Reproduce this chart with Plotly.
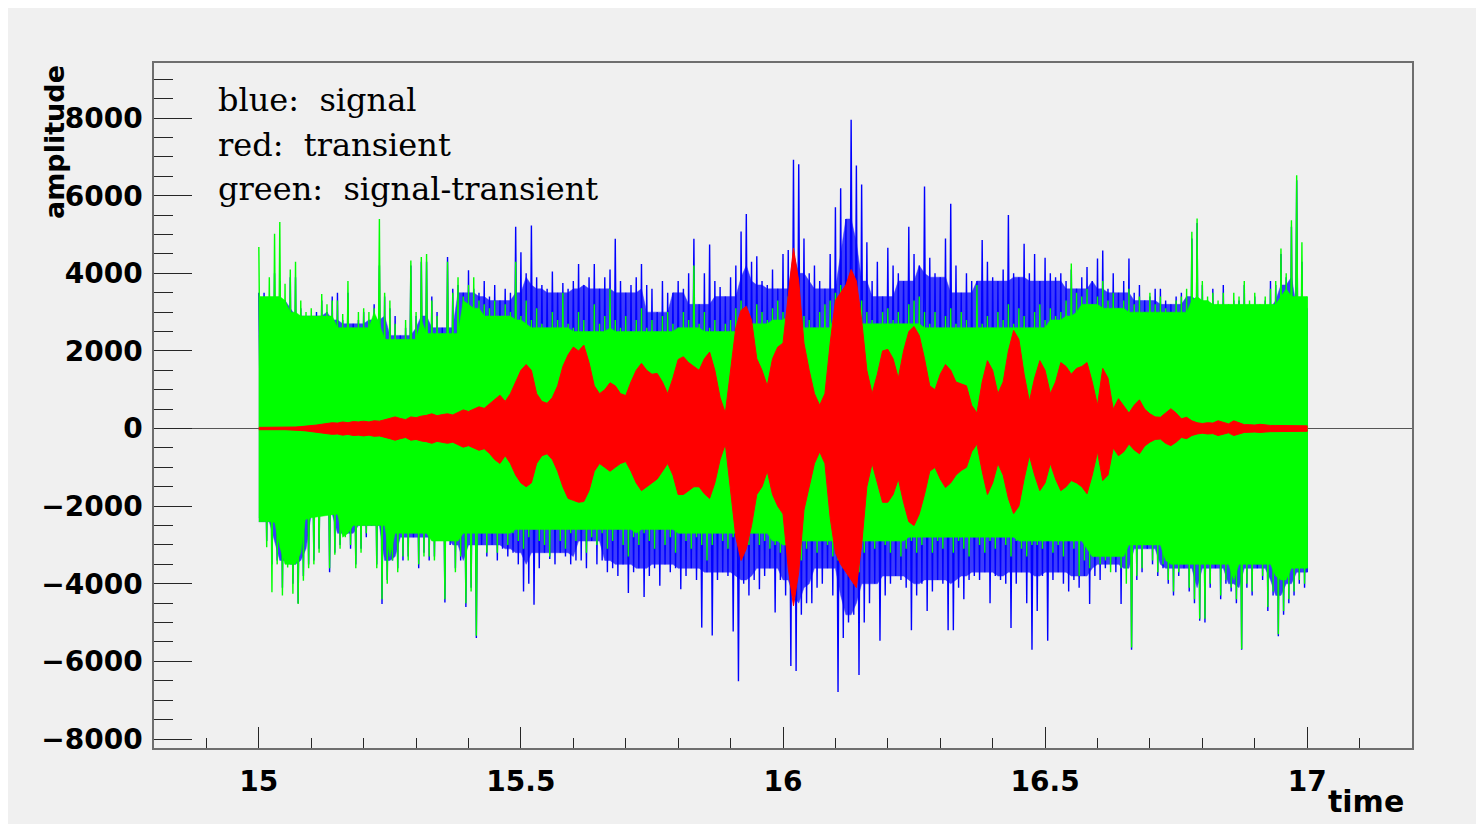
import numpy as np
import plotly.graph_objects as go

# ---------------- data ----------------
# fine time grid: 15.00 .. 17.00 step 0.01 (201 samples); coarse grid step 0.05 (41 samples)
t_fine = np.round(np.linspace(15.0, 17.0, 201), 3)
t_coarse = np.round(np.linspace(15.0, 17.0, 41), 3)

# green (signal-transient): oscillation tops / bottoms per 0.01 s
green_hi = [
    4680, 3400, 3900, 5020, 5320, 3730, 4100, 4300, 3300, 3000,
    3100, 2900, 3470, 3200, 3300, 3300, 2950, 3800, 2600, 3000,
    3100, 3000, 3100, 5400, 3500, 3300, 2700, 2300, 2800, 4330,
    3000, 4420, 4500, 3300, 2900, 2450, 4300, 3500, 3900, 3400,
    3700, 3900, 3300, 3200, 3100, 3300, 2900, 3200, 3000, 4300,
    2900, 3300, 2800, 3100, 2700, 2600, 3000, 2800, 3500, 2700,
    2600, 3000, 2800, 2500, 3200, 2700, 2900, 3600, 2800, 2600,
    2900, 2500, 2800, 3100, 2600, 2800, 2500, 2900, 3000, 2700,
    2600, 3000, 2800, 4200, 2700, 3000, 2600, 2800, 2500, 2700,
    2800, 3100, 3300, 2900, 2700, 3200, 3000, 2800, 3100, 3300,
    3000, 3400, 3800, 3500, 2900, 2800, 2600, 3000, 3200, 3300,
    3500, 3700, 3600, 3900, 3500, 3300, 3000, 2800, 2700, 3000,
    3100, 2800, 3000, 2700, 3200, 3300, 3400, 3000, 2700, 3000,
    2600, 2900, 3100, 2700, 3000, 2800, 2600, 3700, 2700, 2900,
    2600, 3000, 2800, 3200, 2700, 3100, 2900, 2600, 3000, 3200,
    2800, 3100, 2900, 3000, 3300, 4250, 3500, 3400, 3600, 3200,
    3400, 3800, 3300, 3500, 3100, 3300, 3600, 3200, 3400, 3000,
    3500, 3200, 3400, 3100, 3000, 3300, 3400, 3600, 5070, 5410,
    3800, 3400, 3500, 3300, 3500, 3200, 3500, 3400, 3800, 3300,
    3500, 3200, 3400, 3600, 3800, 4640, 4000, 5370, 6530, 4800,
    3400,
]
green_lo = [
    -2400, -3060, -4220, -3500, -4300, -3580, -4260, -4520, -3920, -3600,
    -3500, -3200, -2200, -3600, -3250, -3100, -2800, -3000, -3600, -3200,
    -2700, -2500, -3600, -4400, -4000, -3400, -3700, -3300, -3400, -2700,
    -3500, -3300, -3300, -3400, -2900, -4400, -2900, -3700, -3300, -4500,
    -4200, -5340, -2700, -3200, -2700, -3200, -2700, -3000, -2700, -2900,
    -3100, -2800, -2600, -2900, -3000, -3300, -2600, -2900, -3100, -2700,
    -2900, -2600, -3200, -2800, -3000, -2700, -3100, -2900, -2600, -3000,
    -3300, -2800, -3000, -2700, -2900, -3100, -2600, -3000, -2800, -3200,
    -2700, -2900, -3100, -2800, -3000, -3400, -3000, -2700, -2900, -3100,
    -2800, -3000, -3200, -3000, -2700, -3000, -2900, -3100, -3000, -3200,
    -3000, -3300, -3900, -3400, -3100, -2900, -3200, -2900, -3000, -3300,
    -3400, -3600, -3500, -3800, -3700, -3200, -2900, -3100, -2900, -3000,
    -3200, -2900, -3300, -3100, -2900, -3200, -3000, -2800, -3200, -2900,
    -3100, -2800, -3200, -2900, -3100, -3300, -2800, -3000, -3200, -2900,
    -3100, -2800, -3000, -3300, -2900, -3100, -3300, -3000, -3000, -3100,
    -2900, -3200, -3000, -3300, -2900, -3100, -3800, -3400, -3600, -3300,
    -3500, -3400, -3700, -3300, -3600, -4000, -5640, -3800, -3600, -3000,
    -3400, -3700, -3500, -3900, -4200, -3700, -3500, -4100, -4400, -4900,
    -4900, -4000, -3500, -4300, -3900, -4100, -4400, -5680, -4000, -4200,
    -3500, -3800, -4600, -4200, -5300, -4700, -4400, -4200, -3900, -4000,
    -3600,
]

# blue (signal): oscillation tops / bottoms per 0.01 s
blue_hi = [
    3500, 3500, 3300, 4000, 3800, 3300, 3900, 3900, 3100, 2900,
    2900, 3000, 3300, 3000, 3400, 3500, 2800, 3500, 2700, 2800,
    3000, 2800, 3200, 4200, 3400, 3100, 2900, 2400, 2600, 4200,
    2900, 4300, 4300, 3400, 3000, 2600, 4420, 3600, 3700, 3500,
    4080, 3600, 3500, 3800, 3400, 3700, 3300, 3600, 3500, 5200,
    4540, 4000, 5230, 3900, 3700, 3600, 4050, 3500, 3750, 3600,
    3800, 4240, 3700, 3900, 4240, 3600, 3900, 4100, 4890, 3800,
    3500, 3700, 3900, 4240, 3700, 3600, 3000, 3800, 3500, 3500,
    3800, 3600, 4000, 4890, 3200, 4000, 4740, 3800, 3650, 3400,
    3900, 4200, 5080, 5530, 4300, 4440, 3800, 3700, 4100, 3600,
    4500, 4600, 6930, 6810, 4900, 4000, 4200, 3800, 3600, 4500,
    5700, 6190, 5400, 7960, 6780, 6290, 4800, 3800, 4300, 3400,
    4660, 4200, 4000, 3800, 5200, 4500, 4200, 6240, 4400, 4000,
    3900, 4900, 5790, 4200, 3500, 4000, 3800, 3800, 4860, 4300,
    3900, 3800, 4100, 5500, 4000, 3900, 4760, 4000, 4500, 3800,
    4400, 4000, 3900, 4000, 3800, 4100, 3600, 3900, 4160, 3800,
    4380, 4590, 3600, 4000, 3500, 3800, 4380, 3500, 3700, 3300,
    3400, 3600, 3600, 3300, 3200, 3400, 3500, 3400, 4900, 5300,
    3700, 3300, 3600, 3200, 3700, 3100, 3300, 3300, 3700, 3200,
    3400, 3100, 3300, 3800, 3700, 4500, 3900, 5200, 6400, 4300,
    3100,
]
blue_lo = [
    -2400, -2900, -3500, -3400, -4100, -3500, -4000, -4500, -3800, -3500,
    -3400, -3100, -2200, -3700, -3200, -3000, -2700, -3100, -3500, -3100,
    -2800, -2500, -3500, -4520, -3900, -3400, -3600, -3400, -3300, -2800,
    -3600, -3200, -3400, -3300, -2800, -4480, -3000, -3600, -3400, -4600,
    -4100, -5400, -3000, -3300, -3000, -3400, -3100, -3300, -3200, -3500,
    -4200, -4000, -4540, -3600, -3200, -3360, -3500, -3200, -3300, -3500,
    -3400, -3400, -3600, -2900, -3500, -3400, -3700, -3600, -3800, -3500,
    -4240, -3700, -3600, -4340, -3800, -3600, -4050, -3500, -3700, -3600,
    -4140, -3800, -3600, -3900, -5130, -3700, -5330, -3900, -3700, -3800,
    -5230, -6510, -4000, -4300, -3900, -4140, -3800, -3600, -4740, -3900,
    -4300, -6120, -6250, -4800, -4500, -4500, -4100, -4000, -3600, -4300,
    -6790, -5400, -5000, -4800, -6350, -5000, -4500, -4000, -5470, -4300,
    -4000, -3800, -3900, -4100, -5200, -4300, -4000, -4700, -4200, -3900,
    -4000, -5200, -5200, -4100, -4400, -3900, -3800, -3900, -3700, -4500,
    -3800, -3900, -4000, -5140, -4000, -3700, -4500, -5700, -4700, -3800,
    -5470, -3900, -3700, -4000, -4200, -3900, -4100, -3800, -4520, -3800,
    -3900, -3600, -3500, -3700, -4520, -3600, -5700, -3900, -3700, -3100,
    -3500, -3800, -3600, -4000, -4300, -3800, -3600, -4200, -4500, -4950,
    -5000, -4100, -3600, -4400, -4000, -4200, -4500, -5700, -4100, -4300,
    -3600, -3900, -4700, -4300, -5350, -4800, -4500, -4300, -4000, -4100,
    -3700,
]

# red (transient): envelope per 0.01 s
red_hi = [
    30, 30, 30, 30, 30, 30, 40, 40, 50, 60,
    80, 90, 110, 130, 150, 140, 170, 150, 180, 170,
    190, 170, 200, 190, 220, 260, 300, 260, 230, 300,
    280, 320, 340, 380, 330, 360, 380, 350, 420, 480,
    440, 500, 560, 520, 640, 750, 860, 700, 900, 1200,
    1500, 1650, 1500, 900, 700, 650, 800, 1100, 1600, 1900,
    2100, 2000, 2150, 1700, 1100, 900, 1000, 1180, 1100, 900,
    850, 1200, 1500, 1680, 1500, 1400, 1420, 1200, 900, 1300,
    1780, 1850, 1700, 1600, 1500, 1800, 1970, 1500, 800, 400,
    1500, 2600, 3050, 3150, 2800, 1800, 1500, 1100, 1800, 2100,
    2200, 3500, 4650, 3800, 2200, 1500, 900, 600, 900, 2200,
    3300, 3500, 3700, 4100, 3800, 2800, 1500, 900, 1400, 2000,
    2040, 1800, 1300, 2000, 2500, 2630, 2400, 1800, 1100, 1000,
    1400, 1650, 1500, 1200, 1160, 1100, 600, 400, 1200, 1750,
    1500, 900, 1200, 2000, 2530, 2300, 1400, 700, 1300, 1750,
    1500, 900, 1200, 1700, 1600, 1400, 1550, 1600, 1700, 1200,
    600, 1550, 1300, 500, 770, 600, 400, 600, 740, 500,
    380, 300, 290, 400, 510, 400, 250, 290, 200, 150,
    130, 150, 140, 200, 150, 120, 200, 150, 100, 100,
    90, 110, 90, 80, 80, 80, 70, 70, 70, 70,
    70,
]
red_lo = [
    -30, -30, -30, -30, -30, -30, -40, -40, -50, -60,
    -80, -90, -110, -130, -150, -140, -170, -150, -180, -170,
    -190, -170, -200, -190, -220, -260, -300, -260, -230, -300,
    -280, -320, -340, -380, -330, -360, -380, -350, -420, -480,
    -440, -500, -560, -520, -640, -800, -900, -700, -900, -1200,
    -1400, -1500, -1400, -900, -700, -650, -800, -1100, -1500, -1800,
    -1850, -1900, -1880, -1600, -1100, -900, -1000, -1100, -1000, -900,
    -850, -1100, -1400, -1600, -1500, -1400, -1300, -1100, -900, -1200,
    -1700, -1700, -1600, -1500, -1500, -1680, -1800, -1400, -800, -400,
    -1600, -2800, -3400, -3100, -2500, -1700, -1500, -1100, -1700, -2000,
    -2200, -3600, -4570, -3700, -2100, -1500, -900, -600, -900, -2300,
    -3200, -3500, -3700, -3900, -4100, -3000, -1500, -900, -1400, -1900,
    -1900, -1700, -1300, -1900, -2400, -2500, -2200, -1700, -1100, -1000,
    -1300, -1520, -1400, -1200, -1080, -1000, -600, -400, -1100, -1700,
    -1400, -900, -1200, -1800, -2190, -2000, -1300, -700, -1200, -1600,
    -1400, -900, -1300, -1600, -1500, -1340, -1400, -1500, -1680, -1200,
    -600, -1340, -1200, -500, -700, -600, -400, -550, -650, -450,
    -350, -280, -270, -380, -440, -350, -230, -260, -180, -140,
    -120, -140, -130, -180, -140, -110, -180, -140, -100, -100,
    -90, -100, -90, -80, -80, -80, -70, -70, -70, -70,
    -70,
]

# dense green core (per 0.05 s)
green_core_hi = [2400, 2300, 2100, 2200, 2300, 2100, 2000, 2100, 1900, 1800,
                 1700, 1800, 1800, 1700, 1700, 1800, 1800, 1800, 1900, 1900,
                 2000, 2100, 2000, 1900, 1900, 1800, 1800, 1800, 1800, 1800,
                 1800, 1900, 1900, 2000, 2000, 2100, 2100, 2200, 2200, 2300,
                 2400]
green_core_lo = [-2300, -2500, -2300, -2200, -2400, -2300, -2200, -2300, -2100, -2000,
                 -1900, -1900, -2000, -1900, -1900, -2000, -2000, -2000, -2000, -2100,
                 -2100, -2200, -2100, -2000, -2000, -1900, -1900, -1900, -1900, -2000,
                 -2000, -2100, -2100, -2200, -2300, -2300, -2400, -2400, -2400, -2400,
                 -2500]

legend_lines = ["blue:\u00a0 signal", "red:\u00a0 transient", "green:\u00a0 signal-transient"]
x_title = "time"
y_title = "amplitude"

# ---------------- helpers ----------------
T_END = float(t_fine[-1])
HALF = 0.005


def band(t, hi, lo):
    t = list(t)
    return t + t[::-1], list(hi) + list(lo)[::-1]


def zigzag(t, hi, lo):
    """oscillation: top at t, bottom half a step later"""
    xs, ys = [], []
    for ti, h, l in zip(t, hi, lo):
        xs += [ti, min(ti + HALF, T_END)]
        ys += [h, l]
    return xs, ys


def dense_zone(hi, lo, k):
    """area swept by every oscillation of a (2k+1)-sample neighbourhood"""
    h = np.pad(np.asarray(hi, float), k, mode="edge")
    l = np.pad(np.asarray(lo, float), k, mode="edge")
    n = len(hi)
    top = np.min([h[i:i + n] for i in range(2 * k + 1)], axis=0)
    bot = np.max([l[i:i + n] for i in range(2 * k + 1)], axis=0)
    return top, bot


BLUE, GREEN, RED = "#0000ff", "#00ff00", "#ff0000"

fig = go.Figure()


def add_band(t, hi, lo, color, lw=0.5, opacity=1.0):
    x, y = band(t, hi, lo)
    fig.add_trace(go.Scatter(x=x, y=y, fill="toself", fillcolor=color, mode="lines",
                             line=dict(color=color, width=lw), opacity=opacity,
                             hoverinfo="skip", showlegend=False))


def add_zig(t, hi, lo, color, lw):
    x, y = zigzag(t, hi, lo)
    fig.add_trace(go.Scatter(x=x, y=y, mode="lines", line=dict(color=color, width=lw),
                             hoverinfo="skip", showlegend=False))


# blue signal
b_top, b_bot = dense_zone(blue_hi, blue_lo, 2)
add_band(t_fine, b_top, b_bot, BLUE, opacity=0.75)
add_zig(t_fine, blue_hi, blue_lo, BLUE, 1.4)

# green signal-transient
add_band(t_coarse, green_core_hi, green_core_lo, GREEN)
g_top, g_bot = dense_zone(green_hi, green_lo, 3)
add_band(t_fine, g_top, g_bot, GREEN)
add_zig(t_fine, green_hi, green_lo, GREEN, 1.4)

# red transient
add_band(t_fine, red_hi, red_lo, RED, lw=1)

# ---------------- layout ----------------
OFF = 8                      # page body margin of the html page
W, H = 1476, 816
L, R, T, B = 146, 72, 55, 76
pw, ph = W - L - R, H - T - B


def px(xabs):
    return (xabs - OFF - L) / pw


def py(yabs):
    return (H - B - (yabs - OFF)) / ph


tickfont = dict(family="DejaVu Sans", size=28, color="black", weight="bold")
FRAME = "#6e6e6e"
TICK = "#262626"

fig.update_layout(
    width=W, height=H, autosize=False,
    margin=dict(l=L, r=R, t=T, b=B, pad=0),
    paper_bgcolor="#f0f0f0", plot_bgcolor="#f0f0f0",
    xaxis=dict(range=[14.8, 17.2], tick0=15, dtick=0.5, ticks="inside", ticklen=21,
               tickwidth=1, tickcolor=TICK, showline=True, linecolor=FRAME, linewidth=1.5,
               mirror=True, showgrid=False, zeroline=False, tickfont=tickfont,
               ticklabelstandoff=8,
               minor=dict(dtick=0.1, tick0=15, ticks="inside", ticklen=10, tickwidth=1,
                          tickcolor=TICK, showgrid=False)),
    yaxis=dict(range=[-8232, 9420], tick0=0, dtick=2000, ticks="inside", ticklen=38,
               tickwidth=1, tickcolor=TICK, showline=True, linecolor=FRAME, linewidth=1.5,
               mirror=True, showgrid=False, zeroline=True, zerolinecolor="#555555",
               zerolinewidth=1, tickfont=tickfont, ticklabelstandoff=4,
               minor=dict(dtick=500, tick0=0, ticks="inside", ticklen=19, tickwidth=1,
                          tickcolor=TICK, showgrid=False)),
)

annotations = [
    dict(text=y_title, xref="paper", yref="paper", x=px(54), y=py(142), textangle=-90,
         showarrow=False, xanchor="center", yanchor="middle",
         font=dict(family="DejaVu Sans", size=27, color="black", weight="bold")),
    dict(text=x_title, xref="paper", yref="paper", x=px(1406), y=py(801),
         showarrow=False, xanchor="right", yanchor="middle",
         font=dict(family="DejaVu Sans", size=30, color="black", weight="bold")),
]
for line, yc in zip(legend_lines, [100, 145, 189]):
    annotations.append(dict(text=line, xref="paper", yref="paper", x=px(216), y=py(yc),
                            showarrow=False, xanchor="left", yanchor="middle",
                            font=dict(family="DejaVu Serif", size=32, color="black")))
fig.update_layout(annotations=annotations)

fig.write_html("out.html")
